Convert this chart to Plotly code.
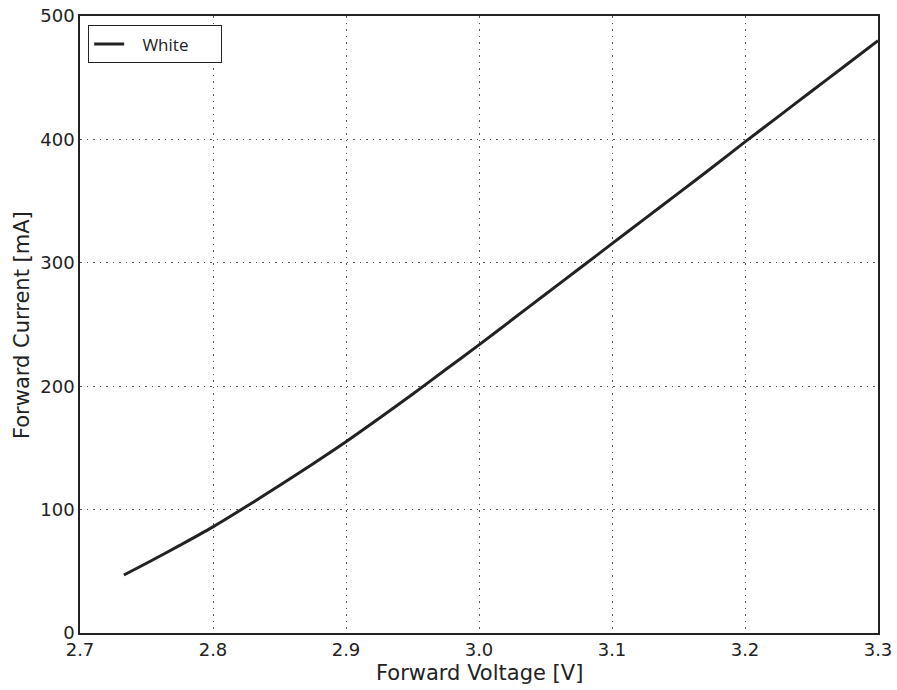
import plotly.graph_objects as go

voltage = [2.733, 2.75, 2.775, 2.80, 2.825, 2.85, 2.875, 2.90, 2.925, 2.95, 2.975, 3.00,
           3.025, 3.05, 3.075, 3.10, 3.125, 3.15, 3.175, 3.20, 3.225, 3.25, 3.275, 3.30]
current = [47, 56.5, 71, 86, 102.5, 119.5, 137, 155, 174, 193.5, 213.5, 233.5,
           254, 274.5, 295, 315.5, 336, 356.5, 377, 398, 418.5, 439, 459.5, 480]
x_ticks = [2.7, 2.8, 2.9, 3.0, 3.1, 3.2, 3.3]
y_ticks = [0, 100, 200, 300, 400, 500]
series_name = "White"

NBSP = "\u00a0"

fig = go.Figure()
fig.add_trace(go.Scatter(x=voltage, y=current, mode="lines",
                         name=NBSP * 3 + series_name + NBSP * 6,
                         line=dict(color="#222222", width=3, shape="spline", smoothing=0.8)))

axis_common = dict(showline=True, linecolor="#222222", linewidth=1.5, mirror=True,
                   showgrid=True, gridcolor="#555555", gridwidth=1, griddash="1.5px,5px",
                   zeroline=False, ticks="", automargin=False,
                   tickfont=dict(family="DejaVu Sans", size=18, color="#222222"))

title_font = dict(family="DejaVu Sans", size=21, color="#222222")

fig.update_layout(
    width=897, height=690,
    margin=dict(l=80, r=19, t=16, b=57),
    plot_bgcolor="white", paper_bgcolor="white",
    xaxis=dict(range=[2.7, 3.3], tickvals=x_ticks, ticktext=[f"{v:.1f}" for v in x_ticks],
               **axis_common),
    yaxis=dict(range=[0, 500], tickvals=y_ticks, **axis_common),
    legend=dict(x=0.010, y=0.985, xanchor="left", yanchor="top", bgcolor="white",
                bordercolor="#222222", borderwidth=1.2, itemwidth=30,
                font=dict(family="Open Sans", size=17, color="#222222")),
    showlegend=True,
    annotations=[
        dict(text="Forward Voltage [V]", xref="paper", yref="paper", x=0.501, y=-0.0648,
             xanchor="center", yanchor="middle", showarrow=False, font=title_font),
        dict(text="Forward Current [mA]", xref="paper", yref="paper", x=-0.0727, y=0.499,
             xanchor="center", yanchor="middle", showarrow=False, textangle=-90, font=title_font),
    ],
)

fig.write_html("out.html", config={"displayModeBar": False},
               post_script="document.body.style.margin='0';")
